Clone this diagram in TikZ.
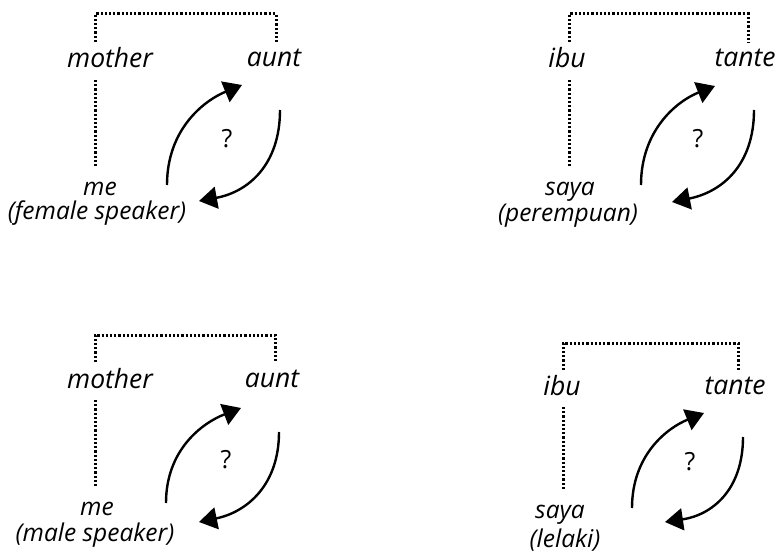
\documentclass[tikz,border=0pt]{standalone}
\usepackage{fontspec}
\setmainfont{Open Sans}
\usetikzlibrary{arrows.meta}
\tikzset{
  kin/.style={line width=3pt, dash pattern=on 2.2pt off 2pt},
  big/.style={font=\fontsize{26.5}{30}\selectfont\itshape, inner sep=0pt, anchor=base},
  small/.style={font=\fontsize{24.5}{28}\selectfont\itshape, inner sep=0pt, anchor=base},
  qm/.style={font=\fontsize{25}{28}\selectfont, inner sep=0pt, anchor=base},
  turn/.style={line width=2.4pt, -{Triangle[length=18pt,width=22pt]}},
}
\begin{document}
\begin{tikzpicture}[x=1pt,y=-1pt]
\useasboundingbox (0,0) rectangle (781,556);
% ---------- panel 1
\node[big] (m1) at (110,68) {mother};
\node[big] (a1) at (274,67) {aunt};
\node[small] (s1) at (100,196) {me};
\node[small] (d1) at (97,219) {(female speaker)};
\node[qm] (q1) at (227,148) {?};
\coordinate (bl1) at (95,42); \coordinate (tl1) at (95,14);
\coordinate (tr1) at (276,14); \coordinate (br1) at (276,43);
\coordinate (vt1) at (95,80); \coordinate (vb1) at (95,167);
\draw[kin] (bl1) -- (tl1) -- (tr1) -- (br1);
\draw[kin] (vt1) -- (vb1);
\coordinate (as1) at (167,185); \coordinate (ae1) at (242,85);
\coordinate (bs1) at (280,110); \coordinate (be1) at (199,201);
\draw[turn] (as1) .. controls (167,130) and (203,101) .. (ae1);
\draw[turn] (bs1) .. controls (280,165) and (248,192) .. (be1);
% ---------- panel 2
\begin{scope}[shift={(474,0)}]
\node[big] (m2) at (93,68) {ibu};
\node[big] (a2) at (271,67) {tante};
\node[small] (s2) at (96,196) {saya};
\node[small] (d2) at (94,221) {(perempuan)};
\node[qm] (q2) at (224,148) {?};
\coordinate (bl2) at (95,42); \coordinate (tl2) at (95,14);
\coordinate (tr2) at (274,14); \coordinate (br2) at (274,43);
\coordinate (vt2) at (95,80); \coordinate (vb2) at (95,167);
\draw[kin] (bl2) -- (tl2) -- (tr2) -- (br2);
\draw[kin] (vt2) -- (vb2);
\coordinate (as2) at (167,185); \coordinate (ae2) at (241,86);
\coordinate (bs2) at (280,110); \coordinate (be2) at (198,202);
\draw[turn] (as2) .. controls (167,130) and (203,101) .. (ae2);
\draw[turn] (bs2) .. controls (280,165) and (248,192) .. (be2);
\end{scope}
% ---------- panel 3
\begin{scope}[shift={(0,320)}]
\node[big] (m3) at (110,68) {mother};
\node[big] (a3) at (272,67) {aunt};
\node[small] (s3) at (97,195) {me};
\node[small] (d3) at (95,221) {(male speaker)};
\node[qm] (q3) at (226,148) {?};
\coordinate (bl3) at (95,42); \coordinate (tl3) at (95,15);
\coordinate (tr3) at (275,15); \coordinate (br3) at (275,43);
\coordinate (vt3) at (95,80); \coordinate (vb3) at (95,167);
\draw[kin] (bl3) -- (tl3) -- (tr3) -- (br3);
\draw[kin] (vt3) -- (vb3);
\coordinate (as3) at (166,183); \coordinate (ae3) at (241,88);
\coordinate (bs3) at (279,112); \coordinate (be3) at (199,202);
\draw[turn] (as3) .. controls (166,130) and (202,103) .. (ae3);
\draw[turn] (bs3) .. controls (279,165) and (247,192) .. (be3);
\end{scope}
% ---------- panel 4
\node[big] (m4) at (562,395) {ibu};
\node[big] (a4) at (735,394) {tante};
\node[small] (s4) at (560,518) {saya};
\node[small] (d4) at (565,547) {(lelaki)};
\node[qm] (q4) at (690,470) {?};
\coordinate (bl4) at (563,370); \coordinate (tl4) at (563,343);
\coordinate (tr4) at (738,343); \coordinate (br4) at (738,370);
\coordinate (vt4) at (563,407); \coordinate (vb4) at (563,490);
\draw[kin] (bl4) -- (tl4) -- (tr4) -- (br4);
\draw[kin] (vt4) -- (vb4);
\coordinate (as4) at (632,508); \coordinate (ae4) at (704,413);
\coordinate (bs4) at (743,437); \coordinate (be4) at (665,522);
\draw[turn] (as4) .. controls (632,455) and (667,428) .. (ae4);
\draw[turn] (bs4) .. controls (743,490) and (712,515) .. (be4);
\end{tikzpicture}
\end{document}
